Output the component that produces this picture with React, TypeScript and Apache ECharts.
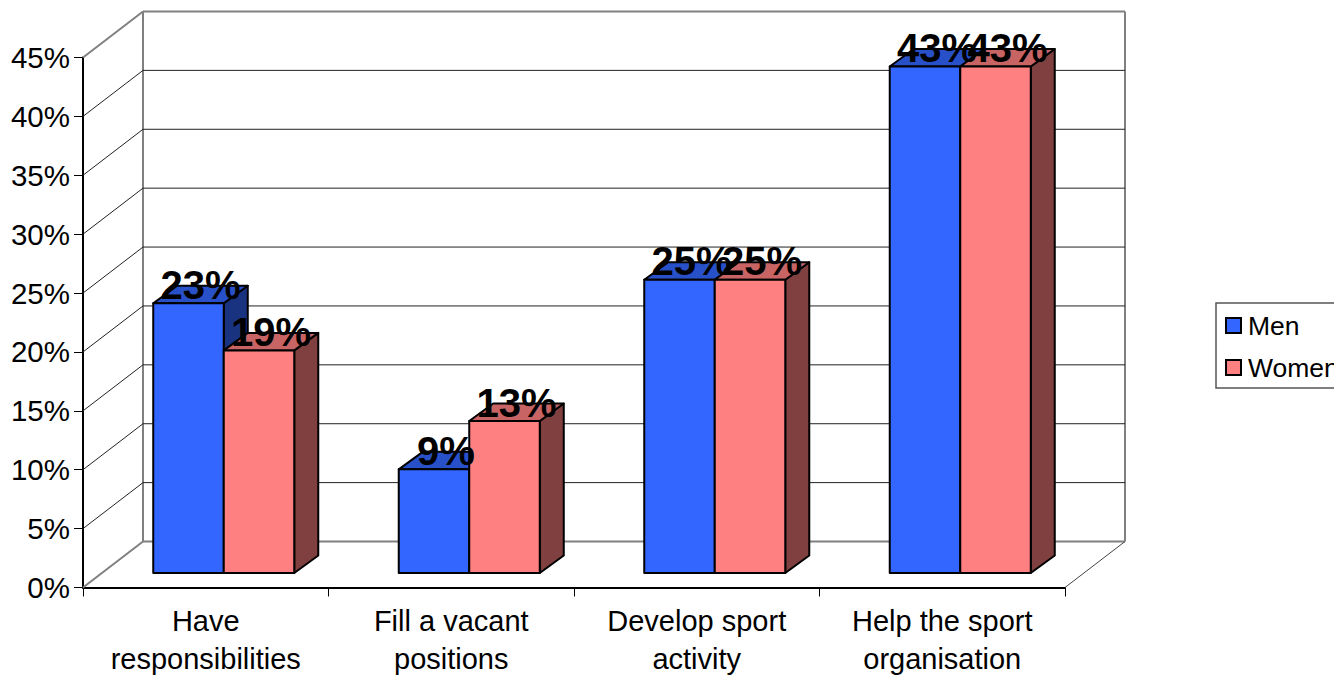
import React, { useEffect, useRef } from "react";
import * as echarts from "echarts";

const categories = ["Have\nresponsibilities", "Fill a vacant\npositions", "Develop sport\nactivity", "Help the sport\norganisation"];
const men = [22.9, 8.8, 24.9, 43];
const women = [18.9, 12.9, 24.9, 43];
const wallTicks = [0, 5, 10, 15, 20, 25, 30, 35, 40, 45];

const FONT = '"Liberation Sans", Arial, sans-serif';
const WALL_DX = 60;
const WALL_DY = 46;
const BAR_OFF_X = 18;
const BAR_OFF_Y = 14.5;
const BAR_DX = 24;
const BAR_DY = 17.5;
const BAR_RATIO = 0.2872;

function wallItem(_p: any, api: any) {
  const v = api.value(1);
  const y = api.coord([0, v])[1];
  const band = api.size([1, 0])[0];
  const l = api.coord([0, v])[0] - band / 2;
  const r = api.coord([categories.length - 1, v])[0] + band / 2;
  const yb = api.coord([0, 0])[1];
  const yt = api.coord([0, 45])[1];
  const gray = { stroke: "#808080", lineWidth: 2 };
  const thin = { stroke: "#222222", lineWidth: 1 };
  const children: any[] = [];
  const edge = v === 0 || v === 45;
  children.push({ type: "line", shape: { x1: l, y1: y, x2: l + WALL_DX, y2: y - WALL_DY }, style: edge ? gray : thin });
  children.push({ type: "line", shape: { x1: l + WALL_DX, y1: y - WALL_DY, x2: r + WALL_DX, y2: y - WALL_DY }, style: edge ? gray : thin });
  if (v === 0) {
    children.push({ type: "line", shape: { x1: r, y1: y, x2: r + WALL_DX, y2: y - WALL_DY }, style: { stroke: "#444444", lineWidth: 1 } });
    children.push({ type: "line", shape: { x1: l + WALL_DX, y1: yb - WALL_DY, x2: l + WALL_DX, y2: yt - WALL_DY }, style: gray });
    children.push({ type: "line", shape: { x1: r + WALL_DX, y1: yb - WALL_DY, x2: r + WALL_DX, y2: yt - WALL_DY }, style: gray });
  }
  return { type: "group", children };
}

function barItem(seriesPos: number, front: string, top: string, side: string) {
  return (_p: any, api: any) => {
    const i = api.value(0);
    const v = api.value(1);
    const band = api.size([1, 0])[0];
    const w = band * BAR_RATIO;
    const c = api.coord([i, v]);
    const x0 = c[0] + BAR_OFF_X - w + seriesPos * w;
    const x1 = x0 + w;
    const yt = c[1] - BAR_OFF_Y;
    const yb = api.coord([i, 0])[1] - BAR_OFF_Y;
    const line = { stroke: "#000000", lineWidth: 2, lineJoin: "round" };
    return {
      type: "group",
      children: [
        { type: "polygon", shape: { points: [[x1, yt], [x1 + BAR_DX, yt - BAR_DY], [x1 + BAR_DX, yb - BAR_DY], [x1, yb]] }, style: { fill: side, ...line } },
        { type: "polygon", shape: { points: [[x0, yt], [x0 + BAR_DX, yt - BAR_DY], [x1 + BAR_DX, yt - BAR_DY], [x1, yt]] }, style: { fill: top, ...line } },
        { type: "rect", shape: { x: x0, y: yt, width: w, height: yb - yt }, style: { fill: front, ...line } },
      ],
    };
  };
}

function labelItem(seriesPos: number) {
  return (_p: any, api: any) => {
    const i = api.value(0);
    const v = api.value(1);
    const band = api.size([1, 0])[0];
    const w = band * BAR_RATIO;
    const c = api.coord([i, v]);
    const x0 = c[0] + BAR_OFF_X - w + seriesPos * w;
    return {
      type: "text",
      style: {
        text: Math.round(v) + "%",
        x: x0 + w / 2 + BAR_DX / 2,
        y: c[1] - BAR_OFF_Y - 18.5,
        align: "center",
        verticalAlign: "middle",
        fontFamily: FONT,
        fontWeight: "bold",
        fontSize: 40,
        fill: "#000000",
      },
    };
  };
}

export default function App() {
  const ref = useRef<HTMLDivElement>(null);
  useEffect(() => {
    const chart = echarts.init(ref.current!, null, { renderer: "svg" });
    const toData = (arr: number[]) => arr.map((v, i) => [i, v]);
    chart.setOption({
      animation: false,
      backgroundColor: "#ffffff",
      textStyle: { fontFamily: FONT },
      grid: { left: 83, top: 57.5, width: 982, height: 530, containLabel: false, outerBoundsMode: "none" },
      xAxis: {
        type: "category",
        data: categories,
        axisLine: { lineStyle: { color: "#000000", width: 2 } },
        axisTick: { show: true, length: 9, lineStyle: { color: "#000000", width: 1 } },
        axisLabel: { interval: 0, fontSize: 29, lineHeight: 38, color: "#000000", margin: 14, fontFamily: FONT },
        splitLine: { show: false },
      },
      yAxis: {
        type: "value",
        min: 0,
        max: 45,
        interval: 5,
        axisLine: { show: true, lineStyle: { color: "#000000", width: 2 } },
        axisTick: { show: true, length: 9, lineStyle: { color: "#000000", width: 1 } },
        axisLabel: { formatter: "{value}%", fontSize: 29.5, color: "#000000", margin: 13, fontFamily: FONT },
        splitLine: { show: false },
      },
      legend: {
        orient: "vertical",
        left: 1216,
        top: 303,
        padding: [9, 10, 7, 9],
        itemWidth: 15,
        itemHeight: 15,
        itemGap: 15,
        icon: "rect",
        backgroundColor: "#ffffff",
        borderColor: "#555555",
        borderWidth: 1.5,
        borderRadius: 0,
        itemStyle: { borderColor: "#000000", borderWidth: 2 },
        textStyle: { fontSize: 26.5, color: "#000000", fontFamily: FONT, padding: [0, 0, 9, 2] },
        data: ["Men", "Women"],
      },
      series: [
        { type: "custom", name: "walls", z: 1, clip: false, silent: true, encode: { x: 0, y: 1 }, data: wallTicks.map((v) => [0, v]), renderItem: wallItem },
        { type: "custom", name: "Men", z: 2, clip: false, itemStyle: { color: "#3366FF" }, encode: { x: 0, y: 1 }, data: toData(men), renderItem: barItem(0, "#3366FF", "#2850C8", "#1A3380") },
        { type: "custom", name: "Women", z: 3, clip: false, itemStyle: { color: "#FF8080" }, encode: { x: 0, y: 1 }, data: toData(women), renderItem: barItem(1, "#FF8080", "#C86464", "#804040") },
        { type: "custom", name: "menLabels", z: 4, clip: false, silent: true, encode: { x: 0, y: 1 }, data: toData(men), renderItem: labelItem(0) },
        { type: "custom", name: "womenLabels", z: 4, clip: false, silent: true, encode: { x: 0, y: 1 }, data: toData(women), renderItem: labelItem(1) },
      ],
    });
    return () => chart.dispose();
  }, []);
  return (
    <div style={{ position: "fixed", left: 0, top: 0, width: 1334, height: 676, overflow: "hidden", background: "#fff" }}>
      <div ref={ref} style={{ width: 1350, height: 676 }} />
    </div>
  );
}
